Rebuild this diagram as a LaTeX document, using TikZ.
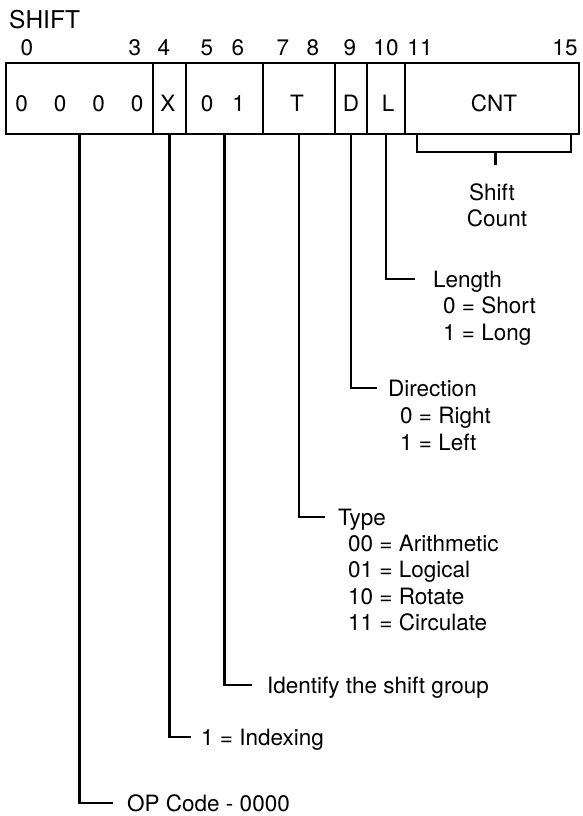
\documentclass[tikz,border=0pt]{standalone}
\usepackage{fontspec}
\setmainfont{TeX Gyre Heros}
\begin{document}
\begin{tikzpicture}[x=1pt,y=-1pt,
  field/.style={draw, line width=2.6pt, minimum height=71pt, inner sep=0pt, outer sep=0pt},
  txt/.style={inner sep=0pt, text height=16pt, text depth=0pt, font=\fontsize{22.5}{27}\selectfont},
  lbl/.style={txt, anchor=west},
  conn/.style={line width=2.6pt, line join=miter}]
\useasboundingbox (0,0) rectangle (582,816);
% title and bit numbers
\node[lbl, font=\fontsize{24.5}{29}\selectfont, text height=17.5pt] (title) at (9,20) {SHIFT};
\node[txt] (n0) at (27,48) {0};
\node[txt] (n3) at (135,48) {3};
\node[txt] (n4) at (164,48) {4};
\node[txt] (n5) at (207,48) {5};
\node[txt] (n6) at (238,48) {6};
\node[txt] (n7) at (283,48) {7};
\node[txt] (n8) at (313,48) {8};
\node[txt] (n9) at (350,48) {9};
\node[txt] (n10) at (386,48) {10};
\node[txt] (n11) at (420,48) {11};
\node[txt] (n15) at (565,48) {15};
% fields
\node[field, minimum width=147pt] (f0) at (79.5,98.5) {};
\node[field, minimum width=33pt] (f1) at (169.5,98.5) {};
\node[field, minimum width=77pt] (f2) at (224.5,98.5) {};
\node[field, minimum width=72pt] (f3) at (299,98.5) {};
\node[field, minimum width=32pt] (f4) at (351,98.5) {};
\node[field, minimum width=38pt] (f5) at (386,98.5) {};
\node[field, minimum width=174pt] (f6) at (492,98.5) {};
% field contents
\node[txt] (t0) at (79.5,103) {0\hspace{26pt}0\hspace{26pt}0\hspace{26pt}0};
\node[txt] (t1) at (168,103) {X};
\node[txt] (t2) at (223,103) {0\hspace{19pt}1};
\node[txt] (t3) at (297,103) {T};
\node[txt] (t4) at (351,103) {D};
\node[txt] (t5) at (388,103) {L};
\node[txt] (t6) at (494,103) {CNT};
% shift count bracket
\coordinate (bl) at (417,134);
\coordinate (br) at (571,134);
\coordinate (bm) at (495.5,152);
\coordinate (bs) at (495.5,165);
\draw[conn] (bl) |- (bm) -| (br);
\draw[conn] (bm) -- (bs);
\node[txt] (sc1) at (492,192) {Shift};
\node[txt] (sc2) at (497,218) {Count};
% Length
\coordinate (e5) at (415,279);
\draw[conn] (f5.south) |- (e5);
\node[lbl] (l5a) at (433,279) {Length};
\node[lbl] (l5b) at (443,305) {0 = Short};
\node[lbl] (l5c) at (443,332) {1 = Long};
% Direction
\coordinate (e4) at (377,388);
\draw[conn] (f4.south) |- (e4);
\node[lbl] (l4a) at (388,388) {Direction};
\node[lbl] (l4b) at (400,415) {0 = Right};
\node[lbl] (l4c) at (400,442) {1 = Left};
% Type
\coordinate (e3) at (325,517);
\draw[conn] (f3.south) |- (e3);
\node[lbl] (l3a) at (338,517) {Type};
\node[lbl] (l3b) at (348,543) {00 = Arithmetic};
\node[lbl] (l3c) at (348,569) {01 = Logical};
\node[lbl] (l3d) at (348,596) {10 = Rotate};
\node[lbl] (l3e) at (348,622) {11 = Circulate};
% Identify
\coordinate (e2) at (252,685);
\draw[conn] (f2.south) |- (e2);
\node[lbl] (l2) at (267,685) {Identify the shift group};
% Indexing
\coordinate (e1) at (191,737);
\draw[conn] (f1.south) |- (e1);
\node[lbl] (l1) at (201,737) {1 = Indexing};
% OP code
\coordinate (e0) at (113,803);
\draw[conn] (f0.south) |- (e0);
\node[lbl] (l0) at (127,803) {OP Code - 0000};
\end{tikzpicture}
\end{document}
